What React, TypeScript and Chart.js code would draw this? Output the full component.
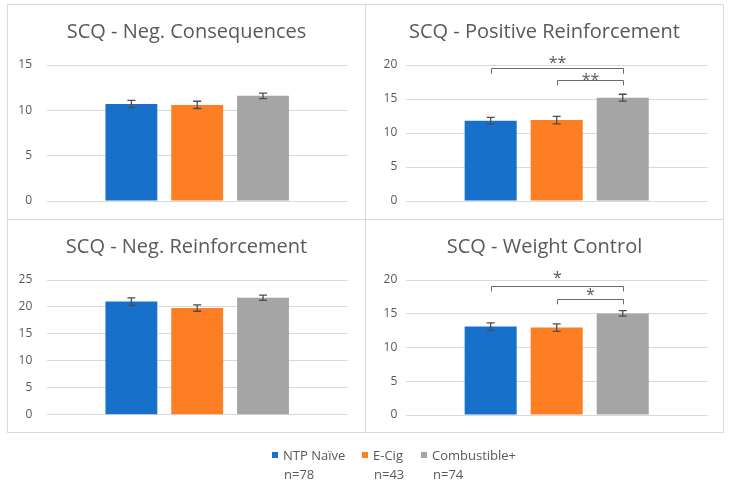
import React, { useEffect, useRef } from "react";
import { Chart, registerables } from "chart.js";

Chart.register(...registerables);

// ---------- data ----------
const seriesNames = ["NTP Naïve", "E-Cig", "Combustible+"];
const seriesN = ["n=78", "n=43", "n=74"];
const seriesColors = ["#1771cb", "#fd7e23", "#a5a5a5"];

const panelTitles = [
  "SCQ - Neg. Consequences",
  "SCQ - Positive Reinforcement",
  "SCQ - Neg. Reinforcement",
  "SCQ - Weight Control",
];
const panelYMax = [15, 20, 25, 20];
const yStep = 5;

const negConsequences = [10.7, 10.6, 11.6];
const negConsequencesErr = [0.4, 0.4, 0.3];
const posReinforcement = [11.8, 11.9, 15.2];
const posReinforcementErr = [0.5, 0.55, 0.5];
const negReinforcement = [21.0, 19.8, 21.7];
const negReinforcementErr = [0.7, 0.6, 0.5];
const weightControl = [13.1, 12.95, 15.05];
const weightControlErr = [0.55, 0.55, 0.4];

// significance brackets (series indices, bracket level, tip level, label level in data units)
const posBracketFrom = [0, 1];
const posBracketTo = [2, 2];
const posBracketLevel = [19.5, 17.8];
const posBracketTip = [18.7, 17.0];
const posBracketLabelLevel = [20.7, 18.2];
const posBracketLabel = ["**", "**"];

const wcBracketFrom = [0, 1];
const wcBracketTo = [2, 2];
const wcBracketLevel = [19.1, 17.2];
const wcBracketTip = [18.3, 16.4];
const wcBracketLabelLevel = [20.8, 18.2];
const wcBracketLabel = ["*", "*"];

type Brackets = {
  from: number[];
  to: number[];
  level: number[];
  tip: number[];
  labelLevel: number[];
  label: string[];
};

const panelValues = [negConsequences, posReinforcement, negReinforcement, weightControl];
const panelErrors = [negConsequencesErr, posReinforcementErr, negReinforcementErr, weightControlErr];
const panelBrackets: (Brackets | null)[] = [
  null,
  {
    from: posBracketFrom,
    to: posBracketTo,
    level: posBracketLevel,
    tip: posBracketTip,
    labelLevel: posBracketLabelLevel,
    label: posBracketLabel,
  },
  null,
  {
    from: wcBracketFrom,
    to: wcBracketTo,
    level: wcBracketLevel,
    tip: wcBracketTip,
    labelLevel: wcBracketLabelLevel,
    label: wcBracketLabel,
  },
];

// ---------- layout ----------
const FONT = "'Open Sans', 'DejaVu Sans', sans-serif";
const TEXT = "#595959";
const GRID = "#d9d9d9";

const panelRects = [
  { x: 7, y: 4, w: 359, h: 216, left: 39.7, right: 18.3, bottom: 19, tickPad: 14.7 },
  { x: 365, y: 4, w: 359, h: 216, left: 40.7, right: 16.3, bottom: 19, tickPad: 8.4 },
  { x: 7, y: 219, w: 359, h: 214, left: 39.7, right: 18.3, bottom: 18.3, tickPad: 14.4 },
  { x: 365, y: 219, w: 359, h: 214, left: 40.7, right: 16.3, bottom: 18, tickPad: 8.4 },
];

const legendLefts = [272, 362, 421];

function Panel({ index }: { index: number }) {
  const ref = useRef<HTMLCanvasElement | null>(null);
  const rect = panelRects[index];

  useEffect(() => {
    const canvas = ref.current;
    if (!canvas) return;
    const values = panelValues[index];
    const errs = panelErrors[index];
    const brackets = panelBrackets[index];

    const overlay = {
      id: "overlay" + index,
      afterDatasetsDraw(chart: any) {
        const ctx = chart.ctx;
        const y = chart.scales.y;
        ctx.save();
        // error bars
        ctx.strokeStyle = "#4d4d4d";
        ctx.lineWidth = 1.3;
        values.forEach((v, i) => {
          const bar = chart.getDatasetMeta(i).data[0];
          const x = bar.x;
          const top = y.getPixelForValue(v + errs[i]);
          const bot = y.getPixelForValue(v - errs[i]);
          ctx.beginPath();
          ctx.moveTo(x, top);
          ctx.lineTo(x, bot);
          ctx.moveTo(x - 4, top);
          ctx.lineTo(x + 4, top);
          ctx.moveTo(x - 4, bot);
          ctx.lineTo(x + 4, bot);
          ctx.stroke();
        });
        // brackets
        if (brackets) {
          ctx.strokeStyle = "#6b6b6b";
          ctx.lineWidth = 1;
          ctx.fillStyle = TEXT;
          ctx.font = `16px ${FONT}`;
          ctx.textAlign = "center";
          ctx.textBaseline = "alphabetic";
          brackets.from.forEach((f, k) => {
            const x1 = Math.round(chart.getDatasetMeta(f).data[0].x) + 0.5;
            const x2 = Math.round(chart.getDatasetMeta(brackets.to[k]).data[0].x) + 0.5;
            const ly = Math.round(y.getPixelForValue(brackets.level[k])) + 0.5;
            const ty = y.getPixelForValue(brackets.tip[k]);
            ctx.beginPath();
            ctx.moveTo(x1, ty);
            ctx.lineTo(x1, ly);
            ctx.lineTo(x2, ly);
            ctx.lineTo(x2, ty);
            ctx.stroke();
            const label = brackets.label[k];
            const m = ctx.measureText(label);
            const asc = m.actualBoundingBoxAscent;
            const desc = m.actualBoundingBoxDescent;
            const target = y.getPixelForValue(brackets.labelLevel[k]);
            const by = target - (desc - asc) / 2;
            ctx.fillText(label, (x1 + x2) / 2, by);
          });
        }
        ctx.restore();
      },
    };

    const chart = new Chart(canvas, {
      type: "bar",
      data: {
        labels: [""],
        datasets: seriesNames.map((name, i) => ({
          label: name,
          data: [values[i]],
          backgroundColor: seriesColors[i],
          borderWidth: 0,
          barPercentage: 0.788,
          categoryPercentage: 0.656,
          yAxisID: "y",
        })),
      },
      options: {
        animation: false,
        responsive: false,
        devicePixelRatio: 1,
        layout: {
          padding: { left: 0, right: 0, top: 0, bottom: rect.bottom },
        },
        plugins: {
          legend: { display: false },
          tooltip: { enabled: false },
          title: {
            display: true,
            text: panelTitles[index],
            color: TEXT,
            font: { family: FONT, size: 20, weight: "normal", lineHeight: 1.2 },
            padding: { top: 16, bottom: 21 },
          },
        },
        scales: {
          x: { display: false },
          y: {
            position: "left",
            min: 0,
            max: panelYMax[index],
            ticks: {
              stepSize: yStep,
              color: TEXT,
              font: { family: FONT, size: 12 },
              padding: 0,
            },
            grid: {
              color: GRID,
              lineWidth: 1,
              drawTicks: true,
              tickLength: rect.tickPad,
              tickColor: "rgba(0,0,0,0)",
            },
            border: { display: false },
            afterFit(scale: any) {
              scale.width = rect.left;
            },
          },
          yRight: {
            type: "linear",
            position: "right",
            min: 0,
            max: panelYMax[index],
            ticks: { display: false, padding: 0 },
            grid: { display: false, drawTicks: false },
            border: { display: false },
            afterFit(scale: any) {
              scale.width = rect.right;
            },
          },
        },
      },
      plugins: [overlay],
    } as any);
    return () => chart.destroy();
  }, [index]);

  return (
    <>
      <canvas
        ref={ref}
        width={rect.w}
        height={rect.h}
        style={{ position: "absolute", left: rect.x, top: rect.y, width: rect.w, height: rect.h }}
      />
      <div
        style={{
          position: "absolute",
          left: rect.x,
          top: rect.y,
          width: rect.w,
          height: rect.h,
          border: `1px solid ${GRID}`,
          boxSizing: "border-box",
          pointerEvents: "none",
        }}
      />
    </>
  );
}

export default function App() {
  return (
    <div
      style={{
        position: "absolute",
        left: 0,
        top: 0,
        width: 730,
        height: 482,
        background: "#ffffff",
        overflow: "hidden",
        fontFamily: FONT,
      }}
    >
      {panelTitles.map((_, i) => (
        <Panel key={i} index={i} />
      ))}
      {seriesNames.map((name, i) => (
        <React.Fragment key={name}>
          <div
            style={{
              position: "absolute",
              left: legendLefts[i],
              top: 452,
              width: 6,
              height: 6,
              background: seriesColors[i],
            }}
          />
          <div
            style={{
              position: "absolute",
              left: legendLefts[i] + 11,
              top: 447,
              fontSize: 13,
              lineHeight: "16px",
              color: TEXT,
              whiteSpace: "nowrap",
            }}
          >
            {name}
          </div>
          <div
            style={{
              position: "absolute",
              left: legendLefts[i] + 12,
              top: 466,
              fontSize: 13,
              lineHeight: "16px",
              color: TEXT,
              whiteSpace: "nowrap",
            }}
          >
            {seriesN[i]}
          </div>
        </React.Fragment>
      ))}
    </div>
  );
}
